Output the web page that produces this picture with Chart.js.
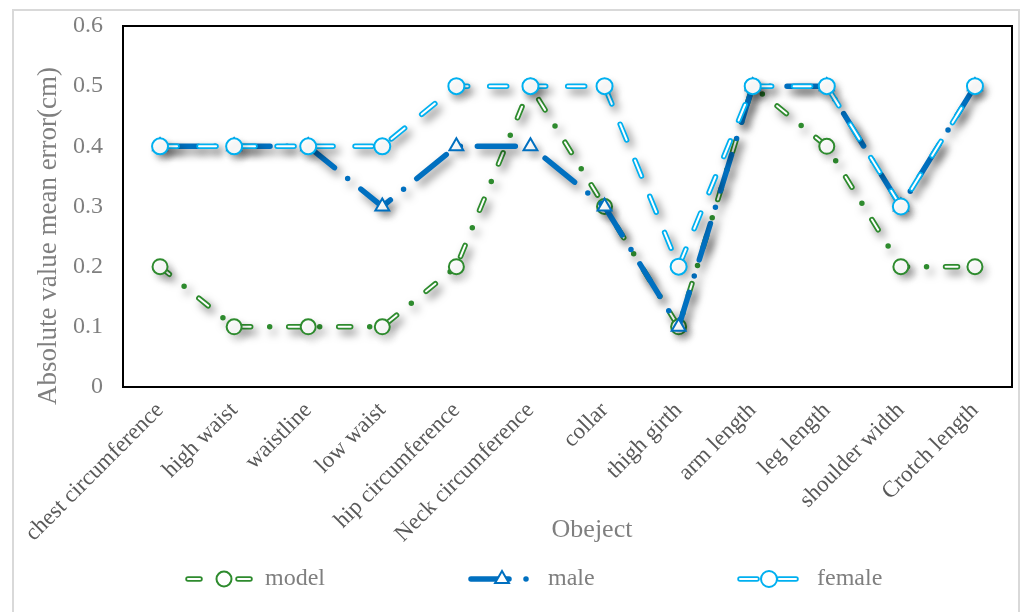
<!DOCTYPE html>
<html>
<head>
<meta charset="utf-8">
<script src="https://cdn.jsdelivr.net/npm/chart.js@4.4.1/dist/chart.umd.min.js"></script>
<style>
    html, body { margin: 0; padding: 0; background: #fff; }
    #wrap { position: relative; width: 1022px; height: 612px; overflow: hidden; }
    #frame { position: absolute; left: 12px; top: 9px; width: 1008px; height: 640px; box-sizing: border-box; border: 2px solid #d9d9d9; }
    #errChart { position: absolute; left: 0; top: 0; }
</style>
</head>
<body>
<div id="wrap">
    <div id="frame"></div>
    <canvas id="errChart" width="1022" height="612"></canvas>
</div>
<script>
const categories = ['chest circumference', 'high waist', 'waistline', 'low waist', 'hip circumference',
    'Neck circumference', 'collar', 'thigh girth', 'arm length', 'leg length', 'shoulder width', 'Crotch length'];
const modelErr = [0.2, 0.1, 0.1, 0.1, 0.2, 0.5, 0.3, 0.1, 0.5, 0.4, 0.2, 0.2];
const maleErr = [0.4, 0.4, 0.4, 0.3, 0.4, 0.4, 0.3, 0.1, 0.5, 0.5, 0.3, 0.5];
const femaleErr = [0.4, 0.4, 0.4, 0.4, 0.5, 0.5, 0.5, 0.2, 0.5, 0.5, 0.3, 0.5];
const yMax = 0.6;
const yStep = 0.1;
const yTitle = 'Absolute value mean error(cm)';
const xTitle = 'Obeject';

const serif = "'Liberation Serif', 'Times New Roman', serif";

// line look per series: outer colour stroke, optional white core (double line), marker
const series = [
    { label: 'model', data: modelErr, color: '#2e8b2e', width: 5.5, core: 2, dash: [12, 19, 0, 19], coreDash: [12, 38], marker: 'circle', radius: 7.5 },
    { label: 'male', data: maleErr, color: '#0070c0', width: 5.5, core: 0, dash: [38, 17, 0, 17], marker: 'triangle', radius: 8 },
    { label: 'female', data: femaleErr, color: '#00b0f0', width: 5.5, core: 2, dash: [17, 22], coreDash: [17, 22], marker: 'circle', radius: 8 }
];

// legend row: sample start, sample length, text start
const legendSlots = [
    { x: 188, w: 72, tx: 265 },
    { x: 471, w: 62, tx: 548 },
    { x: 740, w: 58, tx: 817 }
];

function seriesDatasets(s, order) {
    const sets = [{
        label: s.label,
        data: s.data,
        borderColor: s.color,
        borderWidth: s.width,
        borderDash: s.dash,
        borderCapStyle: 'round',
        borderJoinStyle: 'round',
        pointRadius: 0,
        tension: 0,
        clip: false,
        order: order + 2,
        shadow: 0.5
    }];
    if (s.core) {
        sets.push({
            data: s.data,
            borderColor: '#ffffff',
            borderWidth: s.core,
            borderDash: s.coreDash,
            borderCapStyle: 'round',
            borderJoinStyle: 'round',
            pointRadius: 0,
            tension: 0,
            clip: false,
            order: order + 1
        });
    }
    sets.push({
        data: s.data,
        showLine: false,
        pointStyle: s.marker,
        pointRadius: s.radius,
        pointHoverRadius: s.radius,
        pointBorderColor: s.color,
        pointBackgroundColor: '#ffffff',
        pointBorderWidth: 2,
        clip: false,
        order: order,
        shadow: 0.2
    });
    return sets;
}

// soft drop shadow, strength taken from the dataset's shadow value
const shadowPlugin = {
    id: 'shadow',
    beforeDatasetDraw(chart, args) {
        const alpha = chart.data.datasets[args.index].shadow;
        if (!alpha) return;
        const ctx = chart.ctx;
        ctx.save();
        ctx.shadowColor = `rgba(0, 0, 0, ${alpha})`;
        ctx.shadowBlur = 9;
        ctx.shadowOffsetX = 4;
        ctx.shadowOffsetY = 5;
    },
    afterDatasetDraw(chart, args) {
        if (chart.data.datasets[args.index].shadow) chart.ctx.restore();
    }
};

function drawSample(ctx, s, x0, x1, y) {
    ctx.save();
    ctx.lineCap = 'round';
    ctx.strokeStyle = s.color;
    ctx.lineWidth = s.width;
    ctx.setLineDash(s.dash);
    ctx.beginPath();
    ctx.moveTo(x0, y);
    ctx.lineTo(x1, y);
    ctx.stroke();
    if (s.core) {
        ctx.strokeStyle = '#ffffff';
        ctx.lineWidth = s.core;
        ctx.setLineDash(s.coreDash);
        ctx.beginPath();
        ctx.moveTo(x0, y);
        ctx.lineTo(x1, y);
        ctx.stroke();
    }
    ctx.setLineDash([]);
    ctx.fillStyle = '#ffffff';
    ctx.strokeStyle = s.color;
    ctx.lineWidth = 2;
    Chart.helpers.drawPoint(ctx, { pointStyle: s.marker, radius: s.radius, rotation: 0, borderWidth: 2 }, (x0 + x1) / 2, y);
    ctx.restore();
}

// plot frame, axis titles and the legend row
const framePlugin = {
    id: 'frame',
    beforeDatasetsDraw(chart) {
        const { ctx, chartArea: a } = chart;
        ctx.save();
        ctx.strokeStyle = '#000000';
        ctx.lineWidth = 2;
        ctx.strokeRect(a.left, a.top, a.right - a.left, a.bottom - a.top);
        ctx.restore();
    },
    afterDraw(chart) {
        const ctx = chart.ctx;
        ctx.save();
        ctx.fillStyle = '#7f7f7f';
        ctx.font = '27px ' + serif;
        ctx.textAlign = 'center';
        ctx.textBaseline = 'middle';
        ctx.save();
        ctx.translate(49, 236);
        ctx.rotate(-Math.PI / 2);
        ctx.fillText(yTitle, 0, 0);
        ctx.restore();
        ctx.font = '26px ' + serif;
        ctx.fillText(xTitle, 592, 530);

        ctx.font = '24px ' + serif;
        ctx.textAlign = 'left';
        const y = 579;
        series.forEach((s, i) => {
            const slot = legendSlots[i];
            drawSample(ctx, s, slot.x, slot.x + slot.w, y);
            ctx.fillStyle = '#7f7f7f';
            ctx.fillText(s.label, slot.tx, y);
        });
        ctx.restore();
    }
};

const datasets = [
    ...seriesDatasets(series[0], 6),
    ...seriesDatasets(series[1], 3),
    ...seriesDatasets(series[2], 0)
];

new Chart(document.getElementById('errChart'), {
    type: 'line',
    data: { labels: categories, datasets: datasets },
    options: {
        responsive: false,
        animation: false,
        events: [],
        layout: { padding: { top: 26, right: 4, bottom: 0, left: 0 } },
        plugins: { legend: { display: false }, tooltip: { enabled: false } },
        scales: {
            x: {
                offset: true,
                grid: { display: false, drawTicks: false },
                border: { display: false },
                ticks: {
                    autoSkip: false,
                    minRotation: 45,
                    maxRotation: 45,
                    padding: 10,
                    color: '#595959',
                    font: { family: serif, size: 23 }
                },
                afterFit(scale) { scale.height = 225; }
            },
            y: {
                min: 0,
                max: yMax,
                grid: { display: false, drawTicks: false },
                border: { display: false },
                ticks: {
                    stepSize: yStep,
                    padding: 20,
                    color: '#7f7f7f',
                    font: { family: serif, size: 24 },
                    callback: v => v === 0 ? '0' : v.toFixed(1)
                },
                afterFit(scale) {
                    scale.width = 123;
                    scale.paddingTop = 12;
                    scale.paddingBottom = 12;
                }
            }
        }
    },
    plugins: [shadowPlugin, framePlugin]
});
</script>
</body>
</html>
